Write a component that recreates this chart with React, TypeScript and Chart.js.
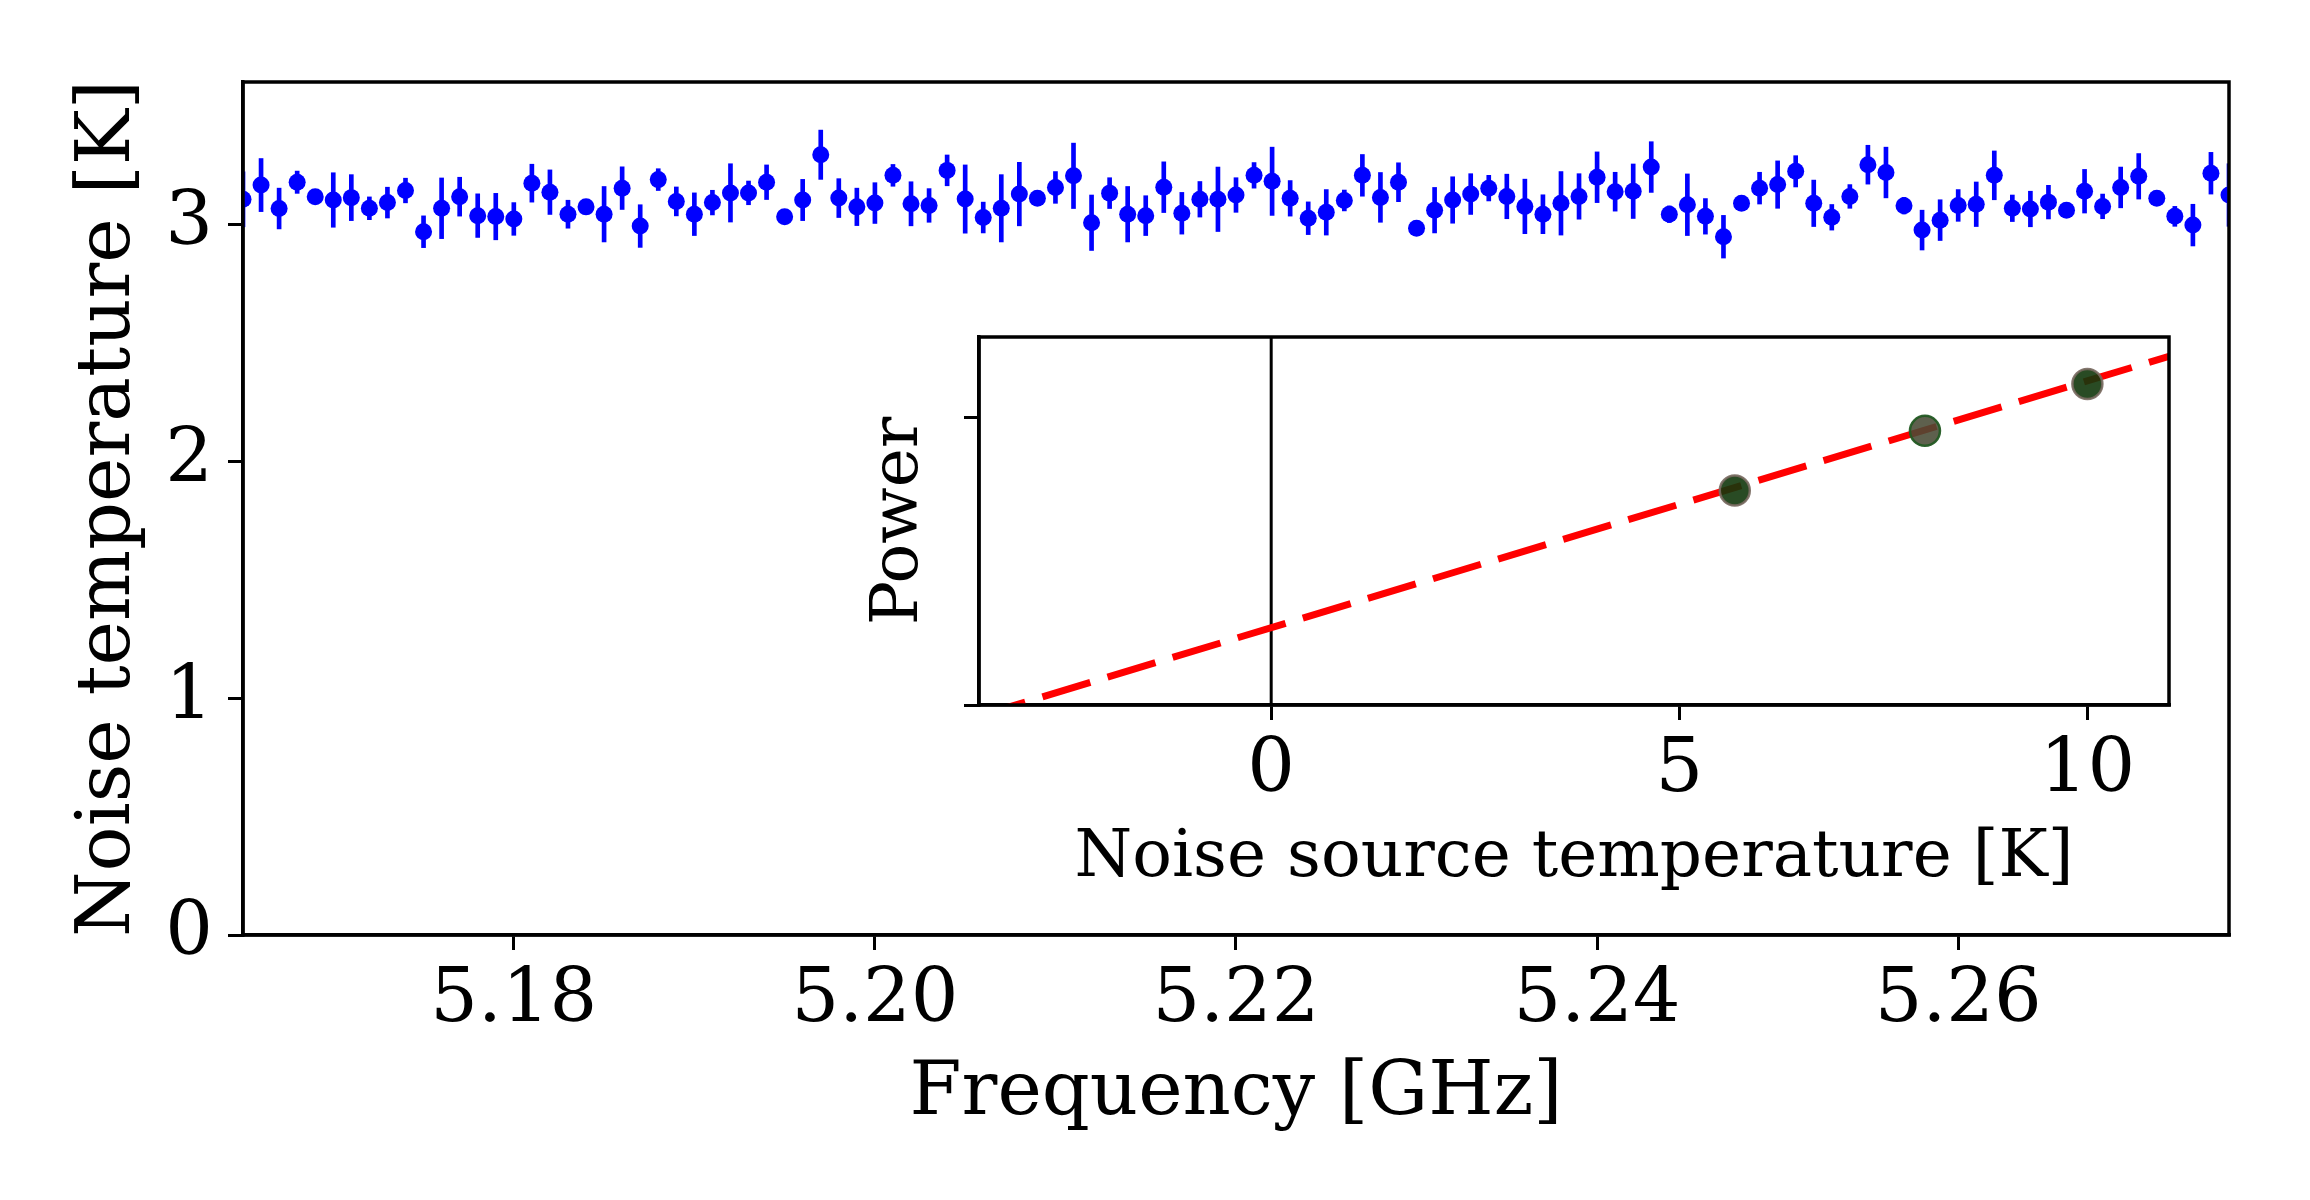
import React, { useEffect, useRef } from 'react';
import { Chart, registerables } from 'chart.js';

Chart.register(...registerables);

// ---------- main panel data ----------
const FREQ_GHZ = [
  5.165, 5.166, 5.167, 5.168, 5.169, 5.170, 5.171, 5.172, 5.173, 5.174,
  5.175, 5.176, 5.177, 5.178, 5.179, 5.180, 5.181, 5.182, 5.183, 5.184,
  5.185, 5.186, 5.187, 5.188, 5.189, 5.190, 5.191, 5.192, 5.193, 5.194,
  5.195, 5.196, 5.197, 5.198, 5.199, 5.200, 5.201, 5.202, 5.203, 5.204,
  5.205, 5.206, 5.207, 5.208, 5.209, 5.210, 5.211, 5.212, 5.213, 5.214,
  5.215, 5.216, 5.217, 5.218, 5.219, 5.220, 5.221, 5.222, 5.223, 5.224,
  5.225, 5.226, 5.227, 5.228, 5.229, 5.230, 5.231, 5.232, 5.233, 5.234,
  5.235, 5.236, 5.237, 5.238, 5.239, 5.240, 5.241, 5.242, 5.243, 5.244,
  5.245, 5.246, 5.247, 5.248, 5.249, 5.250, 5.251, 5.252, 5.253, 5.254,
  5.255, 5.256, 5.257, 5.258, 5.259, 5.260, 5.261, 5.262, 5.263, 5.264,
  5.265, 5.266, 5.267, 5.268, 5.269, 5.270, 5.271, 5.272, 5.273, 5.274,
  5.275,
];

const TEMP_K = [
  3.105, 3.165, 3.066, 3.177, 3.116, 3.102, 3.112, 3.067, 3.091, 3.142,
  2.968, 3.067, 3.116, 3.036, 3.032, 3.022, 3.173, 3.135, 3.042, 3.073,
  3.042, 3.152, 2.992, 3.188, 3.096, 3.042, 3.091, 3.132, 3.132, 3.177,
  3.031, 3.102, 3.293, 3.110, 3.073, 3.089, 3.206, 3.086, 3.079, 3.227,
  3.106, 3.028, 3.067, 3.127, 3.109, 3.155, 3.204, 3.006, 3.131, 3.042,
  3.036, 3.156, 3.046, 3.105, 3.105, 3.123, 3.206, 3.181, 3.109, 3.025,
  3.050, 3.100, 3.206, 3.113, 3.177, 2.983, 3.059, 3.102, 3.127, 3.152,
  3.117, 3.075, 3.042, 3.088, 3.117, 3.198, 3.137, 3.139, 3.241, 3.042,
  3.082, 3.033, 2.947, 3.088, 3.152, 3.167, 3.223, 3.088, 3.029, 3.117,
  3.251, 3.218, 3.078, 2.975, 3.017, 3.079, 3.084, 3.206, 3.067, 3.064,
  3.093, 3.059, 3.139, 3.075, 3.155, 3.202, 3.109, 3.033, 2.996, 3.215,
  3.123,
];

const TEMP_ERR_K = [
  0.116, 0.112, 0.086, 0.047, 0.020, 0.115, 0.097, 0.048, 0.065, 0.052,
  0.067, 0.128, 0.082, 0.092, 0.098, 0.069, 0.080, 0.094, 0.059, 0.020,
  0.117, 0.090, 0.090, 0.046, 0.061, 0.090, 0.052, 0.123, 0.050, 0.073,
  0.020, 0.087, 0.104, 0.082, 0.079, 0.086, 0.046, 0.093, 0.071, 0.065,
  0.144, 0.065, 0.142, 0.134, 0.020, 0.067, 0.138, 0.117, 0.065, 0.117,
  0.084, 0.107, 0.088, 0.075, 0.136, 0.073, 0.054, 0.144, 0.075, 0.069,
  0.096, 0.044, 0.088, 0.105, 0.082, 0.030, 0.096, 0.098, 0.086, 0.054,
  0.094, 0.115, 0.082, 0.134, 0.096, 0.107, 0.082, 0.115, 0.107, 0.035,
  0.130, 0.075, 0.090, 0.020, 0.067, 0.100, 0.066, 0.098, 0.054, 0.050,
  0.082, 0.107, 0.035, 0.084, 0.086, 0.067, 0.094, 0.103, 0.056, 0.075,
  0.071, 0.020, 0.092, 0.052, 0.086, 0.096, 0.020, 0.042, 0.088, 0.088,
  0.132,
];

const X_MIN = 5.165;
const X_MAX = 5.275;
const Y_MIN = 0;
const Y_MAX = 3.6;
const X_TICKS = [5.18, 5.2, 5.22, 5.24, 5.26];
const Y_TICKS = [0, 1, 2, 3];

// ---------- inset data ----------
const INSET_SOURCE_T = [5.68, 8.01, 10.0];
const INSET_POWER = [0.747, 0.955, 1.118];
const FIT_SOURCE_T = [-3.6, 11.0];
const FIT_POWER = [-0.04, 1.215];
const ZERO_LINE_T = 0;
const INSET_X_MIN = -3.58;
const INSET_X_MAX = 11.0;
const INSET_Y_MIN = 0;
const INSET_Y_MAX = 1.282;
const INSET_X_TICKS = [0, 5, 10];
const INSET_Y_TICKS = [0, 1];

const FONT = 'DejaVu Serif';

const framePlugin = {
  id: 'frame',
  afterDraw(chart: any) {
    const { ctx, chartArea } = chart;
    const { left, top, right, bottom } = chartArea;
    ctx.save();
    ctx.strokeStyle = '#000';
    ctx.lineWidth = 3.5;
    ctx.strokeRect(left, top, right - left, bottom - top);
    ctx.restore();
  },
};

export default function App() {
  const mainRef = useRef<HTMLCanvasElement>(null);
  const insetRef = useRef<HTMLCanvasElement>(null);

  useEffect(() => {
    const errBars = FREQ_GHZ.map((f, i) => ({
      x: f,
      y: [TEMP_K[i] - TEMP_ERR_K[i], TEMP_K[i] + TEMP_ERR_K[i]],
    }));
    const pts = FREQ_GHZ.map((f, i) => ({ x: f, y: TEMP_K[i] }));

    const main = new Chart(mainRef.current as HTMLCanvasElement, {
      type: 'scatter',
      data: {
        datasets: [
          {
            type: 'scatter',
            data: pts,
            pointRadius: 8.5,
            pointHoverRadius: 8.5,
            backgroundColor: '#0000ff',
            borderWidth: 0,
            clip: 0,
            order: 0,
          } as any,
          {
            type: 'bar',
            data: errBars,
            backgroundColor: '#0000ff',
            barThickness: 4,
            borderWidth: 0,
            clip: 0,
            order: 1,
          } as any,
        ],
      },
      options: {
        animation: false,
        responsive: false,
        layout: { padding: { left: 0, top: 82, right: 81, bottom: 0 } },
        plugins: { legend: { display: false }, tooltip: { enabled: false } },
        scales: {
          x: {
            type: 'linear',
            min: X_MIN,
            max: X_MAX,
            offset: false,
            afterBuildTicks: (s: any) => {
              s.ticks = X_TICKS.map((v) => ({ value: v }));
            },
            afterFit: (s: any) => {
              s.height = 265;
            },
            ticks: {
              callback: (v: any) => Number(v).toFixed(2),
              font: { family: FONT, size: 75 },
              color: '#000',
              padding: 7,
              maxRotation: 0,
              autoSkip: false,
            },
            grid: {
              display: true,
              drawOnChartArea: false,
              drawTicks: true,
              tickLength: 15,
              lineWidth: 3,
              color: '#000',
              offset: false,
            },
            border: { display: true, color: '#000', width: 3.5 },
            title: {
              display: true,
              text: 'Frequency [GHz]',
              font: { family: FONT, size: 75 },
              color: '#000',
              padding: { top: 0, bottom: 60 },
            },
          } as any,
          y: {
            type: 'linear',
            min: Y_MIN,
            max: Y_MAX,
            afterBuildTicks: (s: any) => {
              s.ticks = Y_TICKS.map((v) => ({ value: v }));
            },
            afterFit: (s: any) => {
              s.width = 243;
            },
            ticks: {
              callback: (v: any) => String(v),
              font: { family: FONT, size: 75 },
              color: '#000',
              padding: 15,
              autoSkip: false,
            },
            grid: {
              display: true,
              drawOnChartArea: false,
              drawTicks: true,
              tickLength: 15,
              lineWidth: 3,
              color: '#000',
            },
            border: { display: true, color: '#000', width: 3.5 },
            title: {
              display: true,
              text: 'Noise temperature [K]',
              font: { family: FONT, size: 75 },
              color: '#000',
              padding: { top: 65, bottom: 0 },
            },
          } as any,
        },
      },
      plugins: [framePlugin],
    } as any);

    const inset = new Chart(insetRef.current as HTMLCanvasElement, {
      type: 'scatter',
      data: {
        datasets: [
          {
            type: 'scatter',
            data: INSET_SOURCE_T.map((t, i) => ({ x: t, y: INSET_POWER[i] })),
            pointRadius: 15,
            pointHoverRadius: 15,
            backgroundColor: ['rgba(18,55,12,0.9)', 'rgba(72,74,52,0.88)', 'rgba(18,55,12,0.9)'],
            borderColor: ['rgba(120,105,95,0.9)', 'rgba(35,90,35,0.95)', 'rgba(120,105,95,0.9)'],
            borderWidth: 2.5,
            clip: 0,
            order: 0,
          } as any,
          {
            type: 'line',
            data: FIT_SOURCE_T.map((t, i) => ({ x: t, y: FIT_POWER[i] })),
            borderColor: '#ff0000',
            borderWidth: 7,
            borderDash: [50, 18],
            borderCapStyle: 'butt',
            pointRadius: 0,
            fill: false,
            tension: 0,
            clip: 0,
            order: 1,
          } as any,
          {
            type: 'line',
            data: [
              { x: ZERO_LINE_T, y: INSET_Y_MIN },
              { x: ZERO_LINE_T, y: INSET_Y_MAX },
            ],
            borderColor: '#000',
            borderWidth: 3,
            pointRadius: 0,
            fill: false,
            clip: 0,
            order: 2,
          } as any,
        ],
      },
      options: {
        animation: false,
        responsive: false,
        layout: { padding: { left: 0, top: 37, right: 31, bottom: 0 } },
        plugins: { legend: { display: false }, tooltip: { enabled: false } },
        scales: {
          x: {
            type: 'linear',
            min: INSET_X_MIN,
            max: INSET_X_MAX,
            offset: false,
            afterBuildTicks: (s: any) => {
              s.ticks = INSET_X_TICKS.map((v) => ({ value: v }));
            },
            afterFit: (s: any) => {
              s.height = 215;
            },
            ticks: {
              callback: (v: any) => String(v),
              font: { family: FONT, size: 75 },
              color: '#000',
              padding: 7,
              maxRotation: 0,
              autoSkip: false,
            },
            grid: {
              display: true,
              drawOnChartArea: false,
              drawTicks: true,
              tickLength: 15,
              lineWidth: 3,
              color: '#000',
            },
            border: { display: true, color: '#000', width: 3.5 },
            title: {
              display: true,
              text: 'Noise source temperature [K]',
              font: { family: FONT, size: 66 },
              color: '#000',
              padding: { top: 0, bottom: 22 },
            },
          } as any,
          y: {
            type: 'linear',
            min: INSET_Y_MIN,
            max: INSET_Y_MAX,
            afterBuildTicks: (s: any) => {
              s.ticks = INSET_Y_TICKS.map((v) => ({ value: v }));
            },
            afterFit: (s: any) => {
              s.width = 119;
            },
            ticks: {
              callback: () => '',
              font: { family: FONT, size: 8 },
              color: '#000',
              padding: 0,
              autoSkip: false,
            },
            grid: {
              display: true,
              drawOnChartArea: false,
              drawTicks: true,
              tickLength: 15,
              lineWidth: 3,
              color: '#000',
            },
            border: { display: true, color: '#000', width: 3.5 },
            title: {
              display: true,
              text: 'Power',
              font: { family: FONT, size: 66 },
              color: '#000',
              padding: { top: 0, bottom: 0 },
            },
          } as any,
        },
      },
      plugins: [framePlugin],
    } as any);

    return () => {
      main.destroy();
      inset.destroy();
    };
  }, []);

  return (
    <div style={{ position: 'fixed', left: 0, top: 0, width: 2310, height: 1200, background: '#fff' }}>
      <canvas
        ref={mainRef}
        width={2310}
        height={1200}
        style={{ position: 'absolute', left: 0, top: 0, width: 2310, height: 1200 }}
      />
      <canvas
        ref={insetRef}
        width={1340}
        height={620}
        style={{ position: 'absolute', left: 860, top: 300, width: 1340, height: 620 }}
      />
    </div>
  );
}
